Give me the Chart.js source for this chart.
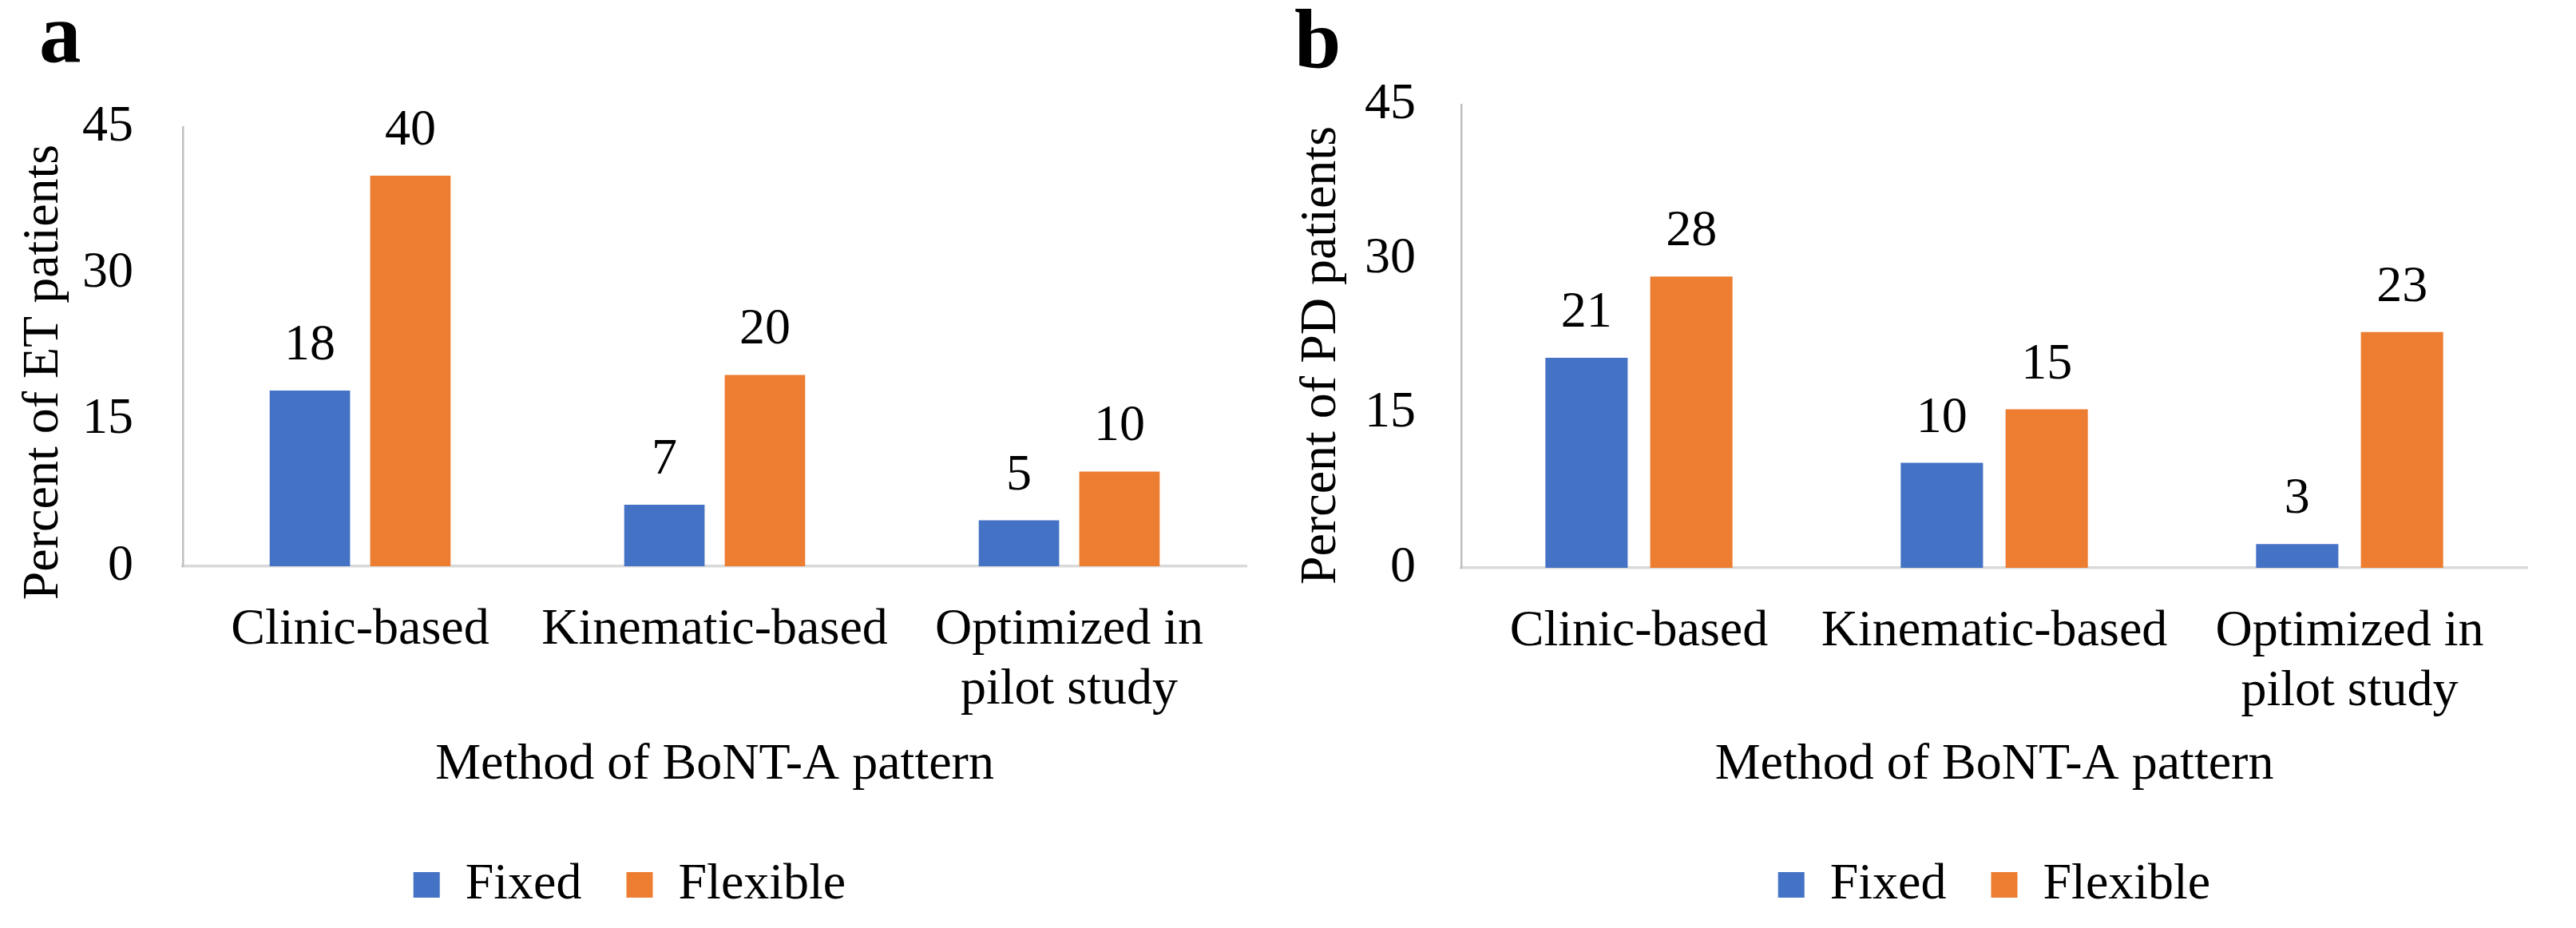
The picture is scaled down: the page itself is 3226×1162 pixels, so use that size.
<!DOCTYPE html>
<html>
<head>
<meta charset="utf-8">
<script src="https://cdn.jsdelivr.net/npm/chart.js@4.4.1/dist/chart.umd.min.js"></script>
<style>
  html, body { margin: 0; padding: 0; background: #fff; }
  #wrap { position: relative; width: 3226px; height: 1162px; overflow: hidden; }
  .panel { position: absolute; top: 0; height: 1162px; }
  .tag { position: absolute; font-family: "Liberation Serif"; font-weight: bold; font-size: 105px; line-height: 1; color: #000; }
</style>
</head>
<body>
<div id="wrap">
  <div class="tag" style="left:49px;top:-11px">a</div>
  <div class="tag" style="left:1621px;top:-3px">b</div>
  <div class="panel" style="left:0;width:1600px"><canvas id="chart-et"></canvas></div>
  <div class="panel" style="left:1600px;width:1626px"><canvas id="chart-pd"></canvas></div>
</div>
<script>
// categories and series
const categories = ['Clinic-based', 'Kinematic-based', ['Optimized in', 'pilot study']];
const seriesNames = ['Fixed', 'Flexible'];
const yTicks = [0, 15, 30, 45];

// panel a - ET patients (bar heights, printed labels as shown)
const fixedET = [18, 6.3, 4.7];
const flexibleET = [40, 19.6, 9.7];
const fixedETLabels = ['18', '7', '5'];
const flexibleETLabels = ['40', '20', '10'];

// panel b - PD patients
const fixedPD = [20.4, 10.2, 2.3];
const flexiblePD = [28.3, 15.4, 22.9];
const fixedPDLabels = ['21', '10', '3'];
const flexiblePDLabels = ['28', '15', '23'];

const colors = ['#4472C4', '#ED7D31'];

Chart.defaults.font.family = '"Liberation Serif", "Times New Roman", serif';
Chart.defaults.font.size = 64;
Chart.defaults.color = '#000';

// value labels above each bar
const barLabels = {
    id: 'barLabels',
    afterDatasetsDraw(chart) {
        const ctx = chart.ctx;
        ctx.save();
        ctx.font = '64px "Liberation Serif"';
        ctx.fillStyle = '#000';
        ctx.textAlign = 'center';
        ctx.textBaseline = 'alphabetic';
        chart.data.datasets.forEach((ds, i) => {
            chart.getDatasetMeta(i).data.forEach((bar, j) => {
                ctx.fillText(ds.valueLabels[j], bar.x, bar.y - 39);
            });
        });
        ctx.restore();
    }
};

function makeChart(id, p) {
    const datasets = [p.fixed, p.flexible].map((vals, i) => ({
        label: seriesNames[i],
        data: vals,
        valueLabels: p.labels[i],
        backgroundColor: colors[i],
        borderWidth: 0,
        categoryPercentage: p.catPct,
        barPercentage: p.barPct
    }));

    return new Chart(document.getElementById(id), {
        type: 'bar',
        data: { labels: categories, datasets: datasets },
        plugins: [barLabels],
        options: {
            responsive: true,
            maintainAspectRatio: false,
            animation: false,
            layout: { padding: p.padding },
            plugins: {
                tooltip: { enabled: false },
                legend: {
                    position: 'bottom',
                    fullSize: p.legendFull,
                    labels: { boxWidth: 33, boxHeight: 32, padding: 56, color: '#000', font: { size: 64 } }
                }
            },
            scales: {
                x: {
                    grid: { display: false, drawTicks: false },
                    border: { color: '#d9d9d9', width: 3.5 },
                    ticks: { padding: 42.5, maxRotation: 0, autoSkip: false, color: '#000', font: { size: 64, lineHeight: 75 / 64 } },
                    title: { display: true, text: 'Method of BoNT-A pattern', color: '#000', font: { size: 64 }, padding: { top: 0, bottom: 23.6 } },
                    afterFit: s => { s.height = p.xHeight; }
                },
                y: {
                    min: 0,
                    max: 45,
                    afterBuildTicks: s => { s.ticks = yTicks.map(v => ({ value: v })); },
                    grid: { display: false, drawTicks: false },
                    border: { color: '#bfbfbf', width: 2.5 },
                    ticks: { padding: p.tickPad, color: '#000', font: { size: 64 } },
                    title: { display: true, text: p.yTitle, color: '#000', font: { size: 64 }, padding: { top: p.yTitlePad, bottom: 0 } },
                    afterFit: s => { s.width = p.yWidth; }
                }
            }
        }
    });
}

makeChart('chart-et', {
    fixed: fixedET, flexible: flexibleET, labels: [fixedETLabels, flexibleETLabels],
    catPct: 0.567, barPct: 0.8,
    padding: { top: 159, left: 16, right: 39, bottom: 12 },
    legendFull: true, xHeight: 311, yWidth: 213, tickPad: 62, yTitlePad: 0.6,
    yTitle: 'Percent of ET patients    '
});

makeChart('chart-pd', {
    fixed: fixedPD, flexible: flexiblePD, labels: [fixedPDLabels, flexiblePDLabels],
    catPct: 0.59, barPct: 0.785,
    padding: { top: 131, left: 0, right: 61, bottom: 12 },
    legendFull: false, xHeight: 309, yWidth: 230, tickPad: 57, yTitlePad: 16.6,
    yTitle: 'Percent of PD patients   '
});
</script>
</body>
</html>
